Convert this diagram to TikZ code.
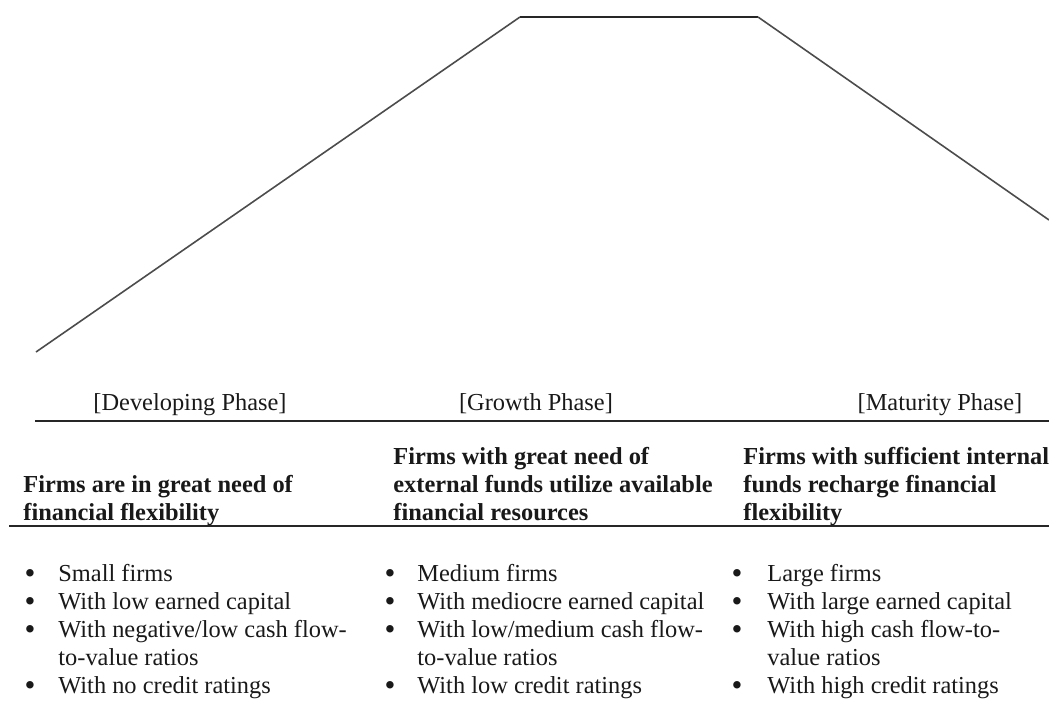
\documentclass[tikz,border=0pt]{standalone}
\usepackage{fontspec}
\setmainfont{Liberation Serif}
\usetikzlibrary{positioning}

\begin{document}
\begin{tikzpicture}
    [x=0.5pt, y=-0.5pt,
    rule/.style={line width=1pt, draw=black!85},
    slope/.style={line width=0.8pt, draw=black!70},
    phase/.style={anchor=base, inner sep=0pt, text=black!90, font=\fontsize{12.2}{14}\selectfont},
    head/.style={anchor=base west, inner sep=0pt, text=black!90, font=\fontsize{12.2}{14}\selectfont\bfseries},
    item/.style={anchor=base west, inner sep=0pt, text=black!90, font=\fontsize{12.2}{14}\selectfont},
    dot/.style={anchor=base, inner sep=0pt, text=black!90, font=\fontsize{15.5}{14}\selectfont}]
        \useasboundingbox (0,0) rectangle (1049,701);

        % Life cycle curve
        \coordinate (c0) at (36,352);
        \coordinate (c1) at (520,17);
        \coordinate (c2) at (758,17);
        \coordinate (c3) at (1049,220);
        \draw[slope] (c0) -- (c1);
        \draw[rule] (c1) -- (c2);
        \draw[slope] (c2) -- (c3);

        % Phases
        \node[phase] (dev) at (190,410) {[Developing Phase]};
        \node[phase] (gro) at (536,410) {[Growth Phase]};
        \node[phase] (mat) at (940,410) {[Maturity Phase]};

        % Rules
        \coordinate (r1a) at (35,421);
        \coordinate (r1b) at (1049,421);
        \coordinate (r2a) at (9,526);
        \coordinate (r2b) at (1049,526);
        \draw[rule] (r1a) -- (r1b);
        \draw[rule] (r2a) -- (r2b);

        % Headings
        \foreach \txt [count=\i] in {Firms are in great need of, financial flexibility}
            \node[head] (hd-\i) at (23,464+28*\i) {\txt};
        \foreach \txt [count=\i] in {Firms with great need of, external funds utilize available, financial resources}
            \node[head] (hg-\i) at (393,436+28*\i) {\txt};
        \foreach \txt [count=\i] in {Firms with sufficient internal, funds recharge financial, flexibility}
            \node[head] (hm-\i) at (743,436+28*\i) {\txt};

        % Developing
        \foreach \r in {1,2,3,5}
            \node[dot] (bd-\r) at (30,555+28*\r) {\textbullet};
        \foreach \txt [count=\i] in {Small firms, With low earned capital, With negative/low cash flow-, to-value ratios, With no credit ratings}
            \node[item] (td-\i) at (58,553+28*\i) {\txt};
        % Growth
        \foreach \r in {1,2,3,5}
            \node[dot] (bg-\r) at (390,555+28*\r) {\textbullet};
        \foreach \txt [count=\i] in {Medium firms, With mediocre earned capital, With low/medium cash flow-, to-value ratios, With low credit ratings}
            \node[item] (tg-\i) at (417,553+28*\i) {\txt};
        % Maturity
        \foreach \r in {1,2,3,5}
            \node[dot] (bm-\r) at (737,555+28*\r) {\textbullet};
        \foreach \txt [count=\i] in {Large firms, With large earned capital, With high cash flow-to-, value ratios, With high credit ratings}
            \node[item] (tm-\i) at (767,553+28*\i) {\txt};
    \end{tikzpicture}
\end{document}
